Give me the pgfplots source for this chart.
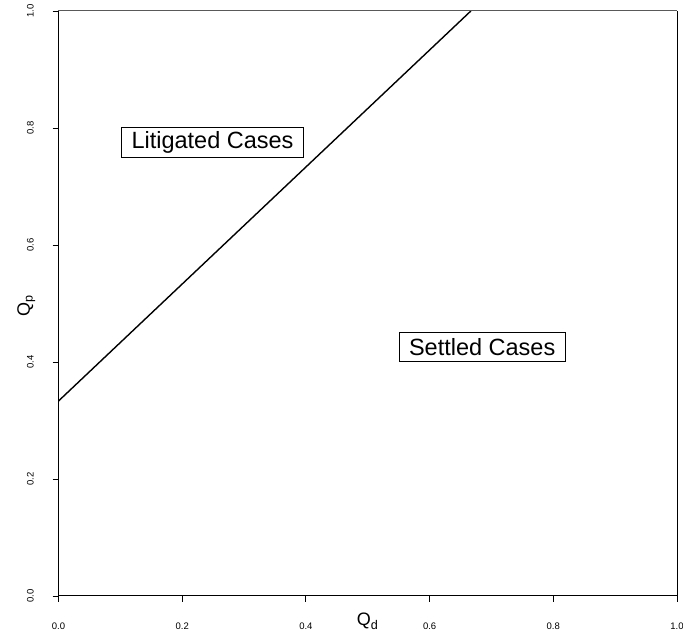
\documentclass[border=0pt]{standalone}
\usepackage{fontspec}
\setmainfont{Liberation Sans}
\usepackage{pgfplots}
\pgfplotsset{compat=1.18}
\begin{document}
\begin{tikzpicture}
\begin{axis}[
  scale only axis,
  width=618.5pt, height=585pt,
  xmin=0, xmax=1, ymin=0, ymax=1,
  axis x line=bottom, axis y line=left,
  axis line style={-, line width=1pt, black},
  xtick={0,0.2,0.4,0.6,0.8,1.0},
  ytick={0,0.2,0.4,0.6,0.8,1.0},
  xticklabels={0.0,0.2,0.4,0.6,0.8,1.0},
  yticklabels={0.0,0.2,0.4,0.6,0.8,1.0},
  tick align=outside,
  major tick length=6pt,
  tick style={black, line width=0.9pt},
  minor tick num=0,
  xticklabel style={font=\fontsize{9.5}{11}\selectfont, anchor=base, yshift=-27.5pt},
  yticklabel style={font=\fontsize{9.5}{11}\selectfont, rotate=90, anchor=base, yshift=19pt},
  typeset ticklabels with strut=false,
  xlabel={Q\textsubscript{d}},
  ylabel={Q\textsubscript{p}},
  xlabel style={font=\fontsize{18}{20}\selectfont, at={([yshift=-30pt]axis description cs:0.5,0)}, anchor=base},
  ylabel style={font=\fontsize{18}{20}\selectfont, at={([xshift=-28.5pt]axis description cs:0,0.497)}, anchor=base},
  clip=false,
]
\addplot[black, line width=1.4pt] coordinates {(0,0.3333) (0.6667,1)};
\draw[gray!70!black, line width=1pt] (rel axis cs:0,1) -- (rel axis cs:1,1);
\draw[black, line width=1pt] (rel axis cs:1,0) -- (rel axis cs:1,1);
\node[draw, line width=0.8pt, fill=white, font=\fontsize{23.5}{26}\selectfont, inner xsep=10pt, inner ysep=4pt, minimum height=28.5pt] at (axis cs:0.249,0.775) {Litigated Cases};
\node[draw, line width=0.8pt, fill=white, font=\fontsize{23.5}{26}\selectfont, inner xsep=10pt, inner ysep=4pt, minimum height=29pt] at (axis cs:0.685,0.425) {Settled Cases};
\coordinate (SW) at (rel axis cs:0,0);
\coordinate (NE) at (rel axis cs:1,1);
\end{axis}
\pgfresetboundingbox
\path ([shift={(-58.5pt,-37pt)}]SW) rectangle ([shift={(6pt,11pt)}]NE);
\end{tikzpicture}
\end{document}
